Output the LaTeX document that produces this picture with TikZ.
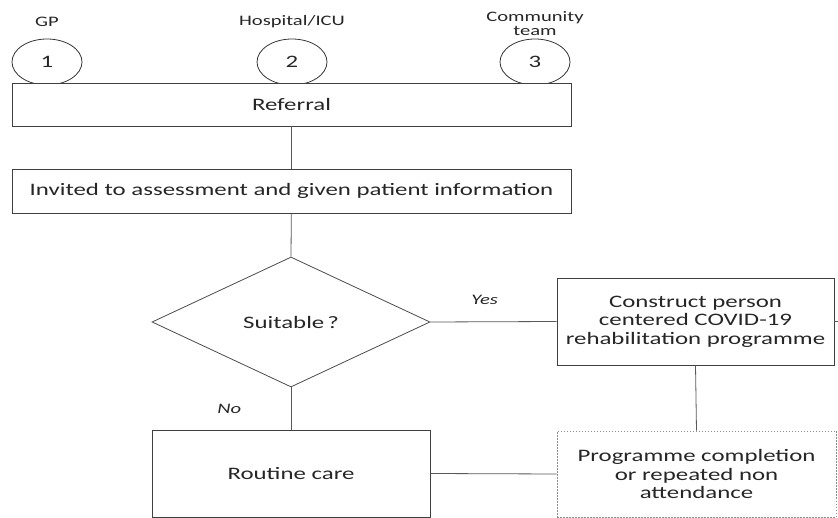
\documentclass[tikz,border=0pt]{standalone}
\usepackage{fontspec}
\setmainfont[FakeStretch=1.42]{Carlito}
\usetikzlibrary{shapes.geometric}
\begin{document}
\begin{tikzpicture}[x=1pt,y=-1pt,
  line width=0.8pt,
  edge/.style={draw=black!65},
  box/.style={draw=black!75,fill=white,rectangle,inner sep=0pt,align=center,font=\fontsize{17.5}{18.5}\selectfont,text=black!85},
  dbox/.style={box,draw=black!45,dash pattern=on 1.5pt off 1.5pt,line width=0.7pt},
  src/.style={draw=black!80,ellipse,minimum width=70pt,minimum height=46pt,inner sep=0pt,font=\fontsize{17.5}{20}\selectfont,text=black!85},
  lbl/.style={font=\fontsize{14.5}{15}\selectfont,text=black!85,align=center},
  ans/.style={font=\fontsize{14.5}{15}\selectfont\itshape,text=black!85}]
\useasboundingbox (0,0) rectangle (838,518);

% referral sources
\node[lbl] (gpl) at (47,22) {GP};
\node[lbl] (hol) at (292,22) {Hospital/ICU};
\node[lbl] (col) at (535,24) {Community\\[-1pt]team};
\node[src] (s1) at (47,62) {1};
\node[src] (s2) at (292,62) {2};
\node[src] (s3) at (535,62) {3};

% main flow
\node[box,minimum width=559pt,minimum height=43pt] (ref) at (291.5,104.5) {Referral};
\node[box,minimum width=559pt,minimum height=44pt] (inv) at (291.5,191) {Invited to assessment and given patient information};
\node[draw=black!70,fill=white,diamond,aspect=2.14,inner sep=0pt,minimum width=278pt,minimum height=130pt,font=\fontsize{17.5}{20}\selectfont,text=black!85] (suit) at (291,322) {Suitable\,?};
\node[box,minimum width=277pt,minimum height=87pt] (con) at (695.5,321.5) {Construct person\\centered COVID-19\\rehabilitation programme};
\node[box,minimum width=278pt,minimum height=87pt] (rout) at (291,473.5) {Routine care};
\node[dbox,minimum width=279pt,minimum height=86pt] (prog) at (696.5,474) {Programme completion\\or repeated non\\attendance};
\coordinate (stub) at (838,321.5);

% connectors
\draw[edge] (ref) -- (inv);
\draw[edge] (inv) -- (suit.north);
\draw[edge] (suit.east) -- (con.west) node[ans,pos=0.43,above=13pt] {Yes};
\draw[edge] (suit.south) -- (rout.north) node[ans,pos=0.5,left=46pt] {No};
\draw[edge] (con.south) -- (prog.north);
\draw[edge] (rout.east) -- (prog.west);
\draw[edge] (con.east) -- (stub);
\end{tikzpicture}
\end{document}
